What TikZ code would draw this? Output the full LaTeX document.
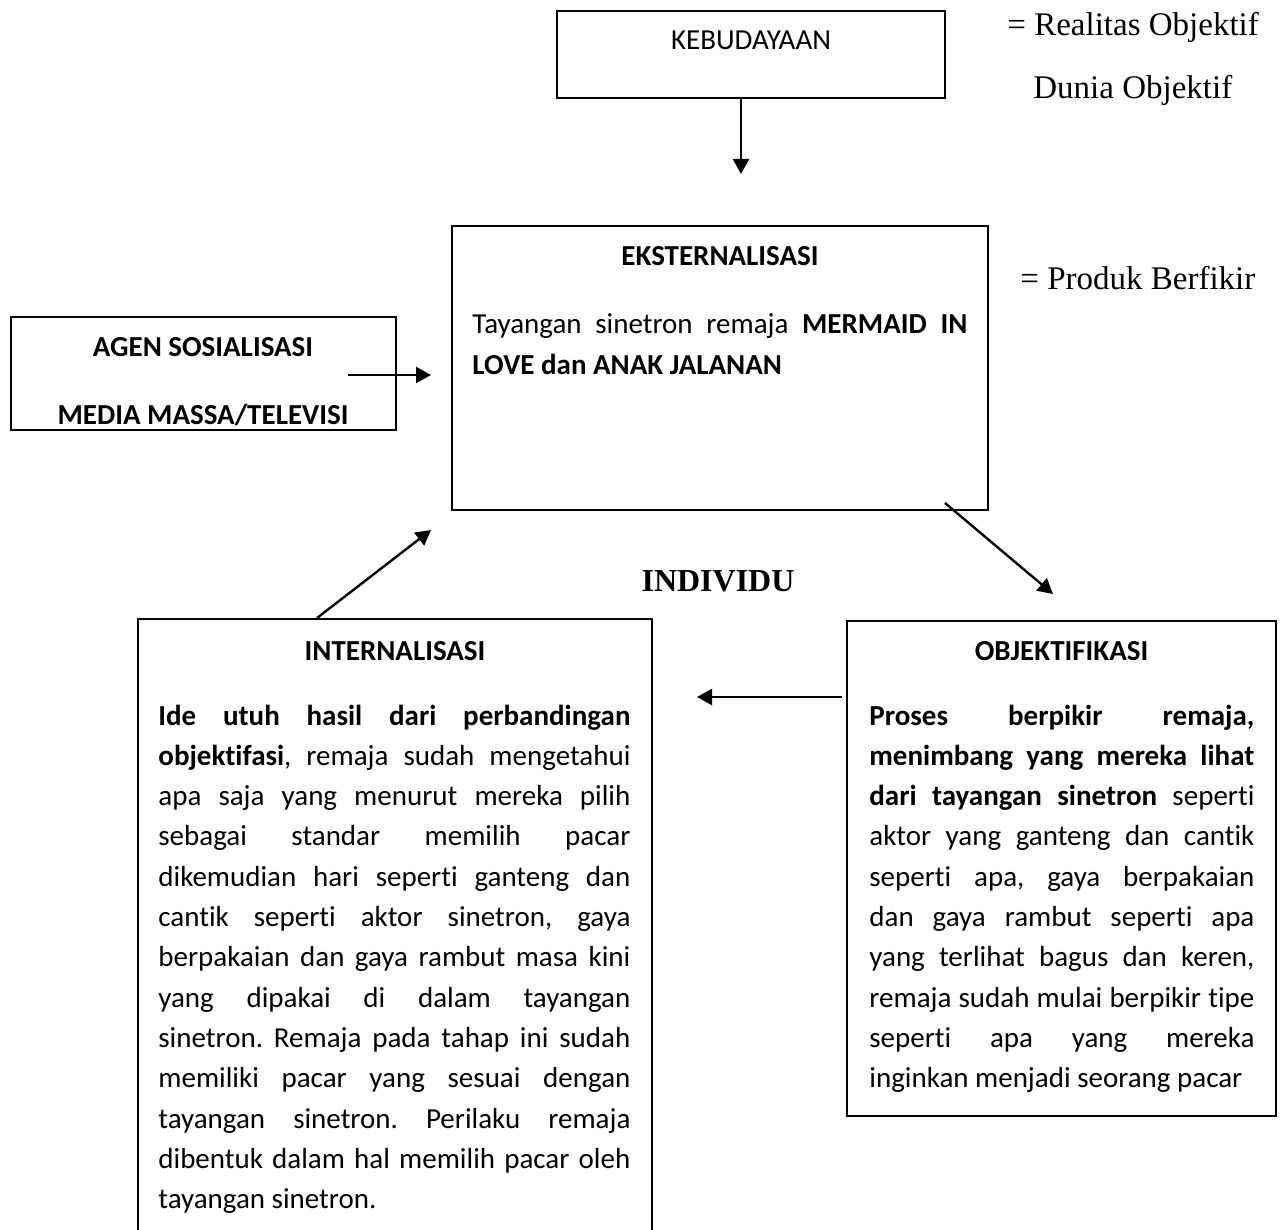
\documentclass[tikz,border=0pt]{standalone}
\usepackage{fontspec}
\setmainfont{Carlito}[RawFeature={-liga}]
\newfontfamily\timesfont{Liberation Serif}
\usetikzlibrary{arrows.meta}

\setlength\parindent{0pt}
\frenchspacing
\newcommand\bodysize{\fontsize{14.5pt}{20.15pt}\selectfont}
\newcommand\sidesize{\timesfont\fontsize{16.5pt}{20pt}\selectfont}

\tikzset{
  box/.style={draw, line width=1pt, inner sep=0pt},
  title/.style={anchor=base, inner sep=0pt, font=\bodysize\bfseries},
  plain/.style={anchor=base, inner sep=0pt, font=\bodysize},
  body/.style={anchor=base west, inner sep=0pt, align=justify, font=\bodysize,
    execute at begin node={\tolerance=10000\hbadness=10000\hyphenpenalty=10000}},
  side/.style={anchor=base west, inner sep=0pt, font=\sidesize},
  arr/.style={-{Triangle[length=7.5pt,width=8pt]}, line width=1.2pt}
}

\begin{document}
\begin{tikzpicture}[x=0.5pt, y=-0.5pt]

  \path[use as bounding box, clip] (0,0) rectangle (1280,1230);
  \fill[white] (0,0) rectangle (1280,1230);

  % boxes
  \node[box, minimum width=194pt, minimum height=43.5pt] (kebud) at (751,54.5) {};
  \node[box, minimum width=268pt, minimum height=142pt] (ekst) at (720,368) {};
  \node[box, minimum width=192.5pt, minimum height=56.5pt] (agen) at (203.5,373.5) {};
  \node[box, minimum width=257pt, minimum height=315.5pt] (intern) at (395,934.5) {};
  \node[box, minimum width=214.5pt, minimum height=247.5pt] (objek) at (1061.5,868.5) {};

  % texts in the boxes
  \node[plain] (kebud-title) at (751,50) {KEBUDAYAAN};

  \node[title] (ekst-title) at (720,266) {EKSTERNALISASI};
  \node[body, text width=247.5pt] (ekst-text) at (472,334)
    {Tayangan sinetron remaja \textbf{MERMAID IN}\linebreak
     \textbf{LOVE dan ANAK JALANAN}};

  \node[title] (agen-title) at (203,357) {AGEN SOSIALISASI};
  \node[title] (agen-media) at (203,424) {MEDIA MASSA/TELEVISI};

  \node[title] (intern-title) at (395,660) {INTERNALISASI};
  \node[body, text width=236pt] (intern-text) at (158,725)
    {\textbf{Ide utuh hasil dari perbandingan}\linebreak
     \textbf{objektifasi}, remaja sudah mengetahui\linebreak
     apa saja yang menurut mereka pilih\linebreak
     sebagai standar memilih pacar\linebreak
     dikemudian hari seperti ganteng dan\linebreak
     cantik seperti aktor sinetron, gaya\linebreak
     berpakaian dan gaya rambut masa kini\linebreak
     yang dipakai di dalam tayangan\linebreak
     sinetron. Remaja pada tahap ini sudah\linebreak
     memiliki pacar yang sesuai dengan\linebreak
     tayangan sinetron. Perilaku remaja\linebreak
     dibentuk dalam hal memilih pacar oleh\linebreak
     tayangan sinetron.};

  \node[title] (objek-title) at (1061.5,660) {OBJEKTIFIKASI};
  \node[body, text width=192.5pt] (objek-text) at (869,725)
    {\textbf{Proses berpikir remaja,}\linebreak
     \textbf{menimbang yang mereka lihat}\linebreak
     \textbf{dari tayangan sinetron} seperti\linebreak
     aktor yang ganteng dan cantik\linebreak
     seperti apa, gaya berpakaian\linebreak
     dan gaya rambut seperti apa\linebreak
     yang terlihat bagus dan keren,\linebreak
     remaja sudah mulai berpikir tipe\linebreak
     seperti apa yang mereka\linebreak
     inginkan menjadi seorang pacar};

  % labels beside
  \node[side] (realitas) at (1007,36) {= Realitas Objektif};
  \node[side] (dunia) at (1033,99) {Dunia Objektif};
  \node[side] (produk) at (1020,290) {= Produk Berfikir};
  \node[anchor=base, inner sep=0pt, font=\timesfont\bfseries\fontsize{16pt}{20pt}\selectfont]
    (individu) at (718,591) {INDIVIDU};

  % arrows
  \coordinate (kebud-end) at (741,174);
  \coordinate (agen-start) at (348,375);
  \coordinate (agen-end) at (431,375);
  \coordinate (ekst-start) at (945,503);
  \coordinate (objek-end) at (1053,594);
  \coordinate (objek-start) at (842,697);
  \coordinate (intern-end) at (697,697);
  \coordinate (intern-start) at (317,619);
  \coordinate (ekst-end) at (431,530);

  \draw[arr] (kebud.south -| kebud-end) -- (kebud-end);
  \draw[arr] (agen-start) -- (agen-end);
  \draw[arr] (ekst-start) -- (objek-end);
  \draw[arr] (objek-start) -- (intern-end);
  \draw[arr] (intern.north -| intern-start) -- (ekst-end);
\end{tikzpicture}
\end{document}
